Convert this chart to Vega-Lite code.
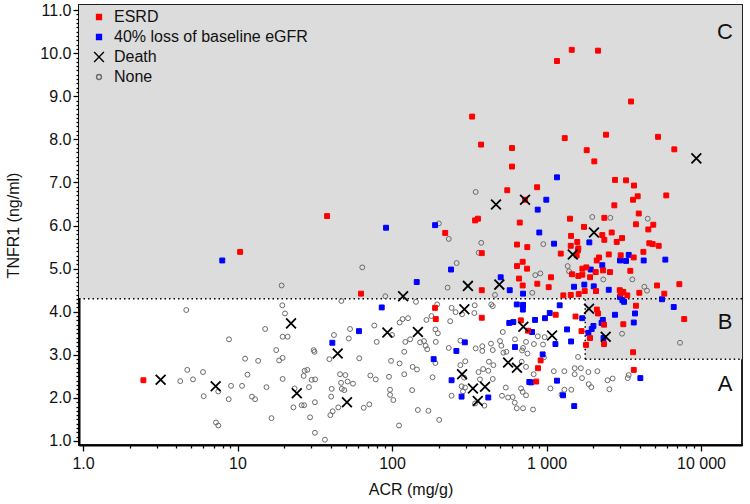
{
"$schema": "https://vega.github.io/schema/vega-lite/v6.json",
"width": 663, "height": 440,
"autosize": "none",
"padding": {"left": 79, "top": 5, "right": 8, "bottom": 59},
"background": "white",
"resolve": {"axis": {"x": "independent", "y": "independent"}},
"config": {
  "font": "Liberation Sans",
  "view": {"stroke": "#222", "strokeWidth": 2},
  "axis": {"domainColor": "#000", "domainWidth": 2, "tickColor": "#000", "tickWidth": 1.3, "labelFontSize": 16, "labelColor": "#111", "titleFontSize": 16, "titleFontWeight": "normal", "titleColor": "#111", "grid": false, "labelOverlap": false, "zindex": 1},
  "legend": {"orient": "none", "legendX": 12, "legendY": 4, "labelFontSize": 16, "labelColor": "#111", "rowPadding": 4, "labelOffset": 7, "labelLimit": 0, "symbolSize": 24, "symbolStrokeWidth": 1.4, "title": null, "padding": 0}
},
"datasets": {
  "patients": [
{"acr":348,"tnfr1":6.78,"outcome":"N"},{"acr":953,"tnfr1":5.57,"outcome":"N"},{"acr":378,"tnfr1":5.60,"outcome":"N"},{"acr":364,"tnfr1":5.37,"outcome":"N"},{"acr":846,"tnfr1":4.85,"outcome":"N"},{"acr":912,"tnfr1":4.89,"outcome":"N"},{"acr":1371,"tnfr1":5.06,"outcome":"N"},{"acr":1399,"tnfr1":4.94,"outcome":"N"},{"acr":262,"tnfr1":5.13,"outcome":"N"},{"acr":2329,"tnfr1":4.75,"outcome":"N"},{"acr":3592,"tnfr1":4.75,"outcome":"N"},{"acr":1978,"tnfr1":6.20,"outcome":"N"},{"acr":2588,"tnfr1":6.18,"outcome":"N"},{"acr":4519,"tnfr1":6.16,"outcome":"N"},{"acr":4296,"tnfr1":4.58,"outcome":"N"},{"acr":4470,"tnfr1":4.49,"outcome":"N"},{"acr":464,"tnfr1":4.39,"outcome":"N"},{"acr":809,"tnfr1":4.44,"outcome":"N"},{"acr":201,"tnfr1":6.05,"outcome":"N"},{"acr":233,"tnfr1":5.69,"outcome":"N"},{"acr":64.2,"tnfr1":5.03,"outcome":"N"},{"acr":19.3,"tnfr1":4.61,"outcome":"N"},{"acr":229,"tnfr1":4.56,"outcome":"N"},{"acr":90.5,"tnfr1":4.36,"outcome":"N"},{"acr":47.0,"tnfr1":4.25,"outcome":"N"},{"acr":19.5,"tnfr1":4.15,"outcome":"N"},{"acr":143,"tnfr1":4.23,"outcome":"N"},{"acr":196,"tnfr1":4.17,"outcome":"N"},{"acr":243,"tnfr1":4.09,"outcome":"N"},{"acr":343,"tnfr1":4.15,"outcome":"N"},{"acr":341,"tnfr1":3.97,"outcome":"N"},{"acr":439,"tnfr1":4.17,"outcome":"N"},{"acr":449,"tnfr1":4.13,"outcome":"N"},{"acr":20.3,"tnfr1":3.96,"outcome":"N"},{"acr":180,"tnfr1":3.90,"outcome":"N"},{"acr":117,"tnfr1":3.83,"outcome":"N"},{"acr":127,"tnfr1":3.85,"outcome":"N"},{"acr":112,"tnfr1":3.75,"outcome":"N"},{"acr":167,"tnfr1":3.81,"outcome":"N"},{"acr":258,"tnfr1":3.99,"outcome":"N"},{"acr":284,"tnfr1":3.94,"outcome":"N"},{"acr":238,"tnfr1":3.78,"outcome":"N"},{"acr":521,"tnfr1":3.53,"outcome":"N"},{"acr":19.6,"tnfr1":3.42,"outcome":"N"},{"acr":21.1,"tnfr1":3.42,"outcome":"N"},{"acr":42.1,"tnfr1":3.46,"outcome":"N"},{"acr":53.5,"tnfr1":3.60,"outcome":"N"},{"acr":100,"tnfr1":3.46,"outcome":"N"},{"acr":76.8,"tnfr1":3.68,"outcome":"N"},{"acr":52.5,"tnfr1":3.38,"outcome":"N"},{"acr":79.6,"tnfr1":3.30,"outcome":"N"},{"acr":122,"tnfr1":3.30,"outcome":"N"},{"acr":120,"tnfr1":3.07,"outcome":"N"},{"acr":131,"tnfr1":3.36,"outcome":"N"},{"acr":152,"tnfr1":3.29,"outcome":"N"},{"acr":161,"tnfr1":3.32,"outcome":"N"},{"acr":165,"tnfr1":3.21,"outcome":"N"},{"acr":169,"tnfr1":3.13,"outcome":"N"},{"acr":191,"tnfr1":3.59,"outcome":"N"},{"acr":198,"tnfr1":3.50,"outcome":"N"},{"acr":192,"tnfr1":3.30,"outcome":"N"},{"acr":31.1,"tnfr1":3.11,"outcome":"N"},{"acr":31.5,"tnfr1":3.07,"outcome":"N"},{"acr":17.8,"tnfr1":3.11,"outcome":"N"},{"acr":18.6,"tnfr1":2.87,"outcome":"N"},{"acr":19.6,"tnfr1":2.93,"outcome":"N"},{"acr":39.3,"tnfr1":2.90,"outcome":"N"},{"acr":61.4,"tnfr1":2.92,"outcome":"N"},{"acr":277,"tnfr1":3.33,"outcome":"N"},{"acr":233,"tnfr1":3.16,"outcome":"N"},{"acr":348,"tnfr1":3.15,"outcome":"N"},{"acr":384,"tnfr1":3.09,"outcome":"N"},{"acr":384,"tnfr1":3.20,"outcome":"N"},{"acr":437,"tnfr1":3.26,"outcome":"N"},{"acr":449,"tnfr1":3.11,"outcome":"N"},{"acr":500,"tnfr1":3.32,"outcome":"N"},{"acr":510,"tnfr1":3.21,"outcome":"N"},{"acr":526,"tnfr1":3.05,"outcome":"N"},{"acr":550,"tnfr1":3.07,"outcome":"N"},{"acr":625,"tnfr1":3.36,"outcome":"N"},{"acr":737,"tnfr1":3.30,"outcome":"N"},{"acr":705,"tnfr1":3.16,"outcome":"N"},{"acr":753,"tnfr1":3.03,"outcome":"N"},{"acr":191,"tnfr1":2.81,"outcome":"N"},{"acr":691,"tnfr1":2.84,"outcome":"N"},{"acr":737,"tnfr1":2.72,"outcome":"N"},{"acr":98.6,"tnfr1":2.86,"outcome":"N"},{"acr":112,"tnfr1":2.80,"outcome":"N"},{"acr":136,"tnfr1":2.72,"outcome":"N"},{"acr":145,"tnfr1":2.66,"outcome":"N"},{"acr":120,"tnfr1":2.55,"outcome":"N"},{"acr":95.6,"tnfr1":2.49,"outcome":"N"},{"acr":72.4,"tnfr1":2.52,"outcome":"N"},{"acr":78.5,"tnfr1":2.43,"outcome":"N"},{"acr":46.1,"tnfr1":2.55,"outcome":"N"},{"acr":49.9,"tnfr1":2.53,"outcome":"N"},{"acr":51.6,"tnfr1":2.38,"outcome":"N"},{"acr":55.9,"tnfr1":2.33,"outcome":"N"},{"acr":46.8,"tnfr1":2.35,"outcome":"N"},{"acr":49.1,"tnfr1":2.18,"outcome":"N"},{"acr":47.3,"tnfr1":2.21,"outcome":"N"},{"acr":19.6,"tnfr1":2.44,"outcome":"N"},{"acr":27.2,"tnfr1":2.63,"outcome":"N"},{"acr":28.3,"tnfr1":2.65,"outcome":"N"},{"acr":26.8,"tnfr1":2.51,"outcome":"N"},{"acr":30.2,"tnfr1":2.42,"outcome":"N"},{"acr":31.8,"tnfr1":2.43,"outcome":"N"},{"acr":29.0,"tnfr1":2.25,"outcome":"N"},{"acr":23.4,"tnfr1":2.22,"outcome":"N"},{"acr":23.0,"tnfr1":1.78,"outcome":"N"},{"acr":26.0,"tnfr1":1.83,"outcome":"N"},{"acr":27.0,"tnfr1":1.83,"outcome":"N"},{"acr":31.7,"tnfr1":1.90,"outcome":"N"},{"acr":29.5,"tnfr1":1.55,"outcome":"N"},{"acr":31.7,"tnfr1":1.19,"outcome":"N"},{"acr":36.8,"tnfr1":1.03,"outcome":"N"},{"acr":40.7,"tnfr1":2.21,"outcome":"N"},{"acr":40.4,"tnfr1":2.03,"outcome":"N"},{"acr":39.9,"tnfr1":1.60,"outcome":"N"},{"acr":41.3,"tnfr1":1.69,"outcome":"N"},{"acr":44.9,"tnfr1":1.78,"outcome":"N"},{"acr":65.6,"tnfr1":1.77,"outcome":"N"},{"acr":71.3,"tnfr1":1.85,"outcome":"N"},{"acr":97.1,"tnfr1":2.19,"outcome":"N"},{"acr":97.1,"tnfr1":2.07,"outcome":"N"},{"acr":102,"tnfr1":1.95,"outcome":"N"},{"acr":111,"tnfr1":1.36,"outcome":"N"},{"acr":135,"tnfr1":2.18,"outcome":"N"},{"acr":147,"tnfr1":1.72,"outcome":"N"},{"acr":172,"tnfr1":1.70,"outcome":"N"},{"acr":202,"tnfr1":1.49,"outcome":"N"},{"acr":183,"tnfr1":2.48,"outcome":"N"},{"acr":282,"tnfr1":2.27,"outcome":"N"},{"acr":288,"tnfr1":2.15,"outcome":"N"},{"acr":297,"tnfr1":2.24,"outcome":"N"},{"acr":243,"tnfr1":2.05,"outcome":"N"},{"acr":371,"tnfr1":2.43,"outcome":"N"},{"acr":363,"tnfr1":2.60,"outcome":"N"},{"acr":420,"tnfr1":2.63,"outcome":"N"},{"acr":449,"tnfr1":2.44,"outcome":"N"},{"acr":396,"tnfr1":1.82,"outcome":"N"},{"acr":345,"tnfr1":1.87,"outcome":"N"},{"acr":545,"tnfr1":2.24,"outcome":"N"},{"acr":515,"tnfr1":2.05,"outcome":"N"},{"acr":564,"tnfr1":2.01,"outcome":"N"},{"acr":604,"tnfr1":2.02,"outcome":"N"},{"acr":642,"tnfr1":1.76,"outcome":"N"},{"acr":623,"tnfr1":1.89,"outcome":"N"},{"acr":684,"tnfr1":2.22,"outcome":"N"},{"acr":701,"tnfr1":2.14,"outcome":"N"},{"acr":737,"tnfr1":2.06,"outcome":"N"},{"acr":453,"tnfr1":2.76,"outcome":"N"},{"acr":424,"tnfr1":2.84,"outcome":"N"},{"acr":389,"tnfr1":2.67,"outcome":"N"},{"acr":298,"tnfr1":2.85,"outcome":"N"},{"acr":277,"tnfr1":2.76,"outcome":"N"},{"acr":293,"tnfr1":2.47,"outcome":"N"},{"acr":16.6,"tnfr1":1.53,"outcome":"N"},{"acr":4.66,"tnfr1":4.04,"outcome":"N"},{"acr":15.1,"tnfr1":3.60,"outcome":"N"},{"acr":8.81,"tnfr1":3.36,"outcome":"N"},{"acr":11.2,"tnfr1":2.91,"outcome":"N"},{"acr":13.6,"tnfr1":2.86,"outcome":"N"},{"acr":4.73,"tnfr1":2.65,"outcome":"N"},{"acr":5.98,"tnfr1":2.60,"outcome":"N"},{"acr":11.6,"tnfr1":2.54,"outcome":"N"},{"acr":4.26,"tnfr1":2.39,"outcome":"N"},{"acr":5.15,"tnfr1":2.43,"outcome":"N"},{"acr":9.08,"tnfr1":2.28,"outcome":"N"},{"acr":10.7,"tnfr1":2.28,"outcome":"N"},{"acr":15.4,"tnfr1":2.25,"outcome":"N"},{"acr":7.51,"tnfr1":2.15,"outcome":"N"},{"acr":6.04,"tnfr1":2.04,"outcome":"N"},{"acr":12.4,"tnfr1":2.03,"outcome":"N"},{"acr":13.0,"tnfr1":1.97,"outcome":"N"},{"acr":8.77,"tnfr1":1.97,"outcome":"N"},{"acr":7.26,"tnfr1":1.43,"outcome":"N"},{"acr":7.51,"tnfr1":1.36,"outcome":"N"},{"acr":3083,"tnfr1":3.49,"outcome":"N"},{"acr":7311,"tnfr1":3.28,"outcome":"N"},{"acr":695,"tnfr1":3.10,"outcome":"N"},{"acr":829,"tnfr1":3.25,"outcome":"N"},{"acr":949,"tnfr1":3.24,"outcome":"N"},{"acr":972,"tnfr1":3.41,"outcome":"N"},{"acr":878,"tnfr1":3.43,"outcome":"N"},{"acr":962,"tnfr1":2.94,"outcome":"N"},{"acr":1600,"tnfr1":2.95,"outcome":"N"},{"acr":1521,"tnfr1":2.69,"outcome":"N"},{"acr":1668,"tnfr1":2.69,"outcome":"N"},{"acr":1866,"tnfr1":2.60,"outcome":"N"},{"acr":2135,"tnfr1":2.62,"outcome":"N"},{"acr":1698,"tnfr1":2.46,"outcome":"N"},{"acr":1521,"tnfr1":2.55,"outcome":"N"},{"acr":1876,"tnfr1":2.32,"outcome":"N"},{"acr":1950,"tnfr1":2.25,"outcome":"N"},{"acr":2483,"tnfr1":2.41,"outcome":"N"},{"acr":2679,"tnfr1":2.45,"outcome":"N"},{"acr":2553,"tnfr1":2.20,"outcome":"N"},{"acr":3356,"tnfr1":2.46,"outcome":"N"},{"acr":3405,"tnfr1":2.53,"outcome":"N"},{"acr":1115,"tnfr1":2.62,"outcome":"N"},{"acr":1304,"tnfr1":2.62,"outcome":"N"},{"acr":1060,"tnfr1":2.22,"outcome":"N"},{"acr":1250,"tnfr1":2.08,"outcome":"N"},{"acr":826,"tnfr1":2.55,"outcome":"N"},{"acr":705,"tnfr1":1.76,"outcome":"N"},{"acr":818,"tnfr1":1.73,"outcome":"N"},{"acr":1305,"tnfr1":2.19,"outcome":"N"},{"acr":1447,"tnfr1":2.19,"outcome":"N"},
{"acr":997,"tnfr1":6.60,"outcome":"B"},{"acr":877,"tnfr1":6.37,"outcome":"B"},{"acr":898,"tnfr1":5.84,"outcome":"B"},{"acr":1893,"tnfr1":5.61,"outcome":"B"},{"acr":1119,"tnfr1":5.58,"outcome":"B"},{"acr":3404,"tnfr1":5.32,"outcome":"B"},{"acr":3272,"tnfr1":5.18,"outcome":"B"},{"acr":2991,"tnfr1":5.19,"outcome":"B"},{"acr":4256,"tnfr1":5.19,"outcome":"B"},{"acr":5875,"tnfr1":5.21,"outcome":"B"},{"acr":2297,"tnfr1":5.08,"outcome":"B"},{"acr":1932,"tnfr1":4.98,"outcome":"B"},{"acr":241,"tnfr1":4.98,"outcome":"B"},{"acr":505,"tnfr1":4.80,"outcome":"B"},{"acr":578,"tnfr1":4.50,"outcome":"B"},{"acr":1507,"tnfr1":4.58,"outcome":"B"},{"acr":1757,"tnfr1":4.63,"outcome":"B"},{"acr":2022,"tnfr1":4.59,"outcome":"B"},{"acr":2529,"tnfr1":4.51,"outcome":"B"},{"acr":705,"tnfr1":4.42,"outcome":"B"},{"acr":2991,"tnfr1":4.34,"outcome":"B"},{"acr":3096,"tnfr1":4.27,"outcome":"B"},{"acr":3175,"tnfr1":4.23,"outcome":"B"},{"acr":5593,"tnfr1":4.29,"outcome":"B"},{"acr":6658,"tnfr1":4.11,"outcome":"B"},{"acr":1169,"tnfr1":7.12,"outcome":"B"},{"acr":91.5,"tnfr1":5.95,"outcome":"B"},{"acr":190,"tnfr1":6.01,"outcome":"B"},{"acr":7.97,"tnfr1":5.19,"outcome":"B"},{"acr":144.5,"tnfr1":4.69,"outcome":"B"},{"acr":85.8,"tnfr1":4.10,"outcome":"B"},{"acr":642,"tnfr1":4.17,"outcome":"B"},{"acr":705,"tnfr1":4.16,"outcome":"B"},{"acr":703,"tnfr1":4.05,"outcome":"B"},{"acr":574,"tnfr1":3.74,"outcome":"B"},{"acr":610,"tnfr1":3.76,"outcome":"B"},{"acr":61.1,"tnfr1":3.55,"outcome":"B"},{"acr":41.1,"tnfr1":3.28,"outcome":"B"},{"acr":261,"tnfr1":3.09,"outcome":"B"},{"acr":296,"tnfr1":3.29,"outcome":"B"},{"acr":625,"tnfr1":3.18,"outcome":"B"},{"acr":186,"tnfr1":2.90,"outcome":"B"},{"acr":243,"tnfr1":2.41,"outcome":"B"},{"acr":282,"tnfr1":2.03,"outcome":"B"},{"acr":420,"tnfr1":2.01,"outcome":"B"},{"acr":774,"tnfr1":2.37,"outcome":"B"},{"acr":806,"tnfr1":3.53,"outcome":"B"},{"acr":843,"tnfr1":3.81,"outcome":"B"},{"acr":977,"tnfr1":3.85,"outcome":"B"},{"acr":1049,"tnfr1":3.97,"outcome":"B"},{"acr":1217,"tnfr1":4.15,"outcome":"B"},{"acr":1142,"tnfr1":3.25,"outcome":"B"},{"acr":1358,"tnfr1":3.59,"outcome":"B"},{"acr":1442,"tnfr1":3.31,"outcome":"B"},{"acr":1702,"tnfr1":3.85,"outcome":"B"},{"acr":1868,"tnfr1":3.51,"outcome":"B"},{"acr":2012,"tnfr1":3.67,"outcome":"B"},{"acr":1961,"tnfr1":3.60,"outcome":"B"},{"acr":2314,"tnfr1":3.81,"outcome":"B"},{"acr":2272,"tnfr1":3.74,"outcome":"B"},{"acr":2339,"tnfr1":3.39,"outcome":"B"},{"acr":2775,"tnfr1":3.93,"outcome":"B"},{"acr":3740,"tnfr1":3.96,"outcome":"B"},{"acr":3671,"tnfr1":3.75,"outcome":"B"},{"acr":4049,"tnfr1":2.46,"outcome":"B"},{"acr":944,"tnfr1":3.01,"outcome":"B"},{"acr":794,"tnfr1":2.36,"outcome":"B"},{"acr":1169,"tnfr1":2.40,"outcome":"B"},{"acr":1279,"tnfr1":2.06,"outcome":"B"},{"acr":1511,"tnfr1":1.81,"outcome":"B"},
{"acr":1456,"tnfr1":10.08,"outcome":"R"},{"acr":2154,"tnfr1":10.06,"outcome":"R"},{"acr":1169,"tnfr1":9.82,"outcome":"R"},{"acr":3524,"tnfr1":8.88,"outcome":"R"},{"acr":1312,"tnfr1":8.03,"outcome":"R"},{"acr":2427,"tnfr1":8.11,"outcome":"R"},{"acr":5270,"tnfr1":8.06,"outcome":"R"},{"acr":377,"tnfr1":7.88,"outcome":"R"},{"acr":598,"tnfr1":7.80,"outcome":"R"},{"acr":1820,"tnfr1":7.75,"outcome":"R"},{"acr":6719,"tnfr1":7.77,"outcome":"R"},{"acr":2039,"tnfr1":7.49,"outcome":"R"},{"acr":598,"tnfr1":7.37,"outcome":"R"},{"acr":2775,"tnfr1":7.06,"outcome":"R"},{"acr":3271,"tnfr1":7.05,"outcome":"R"},{"acr":330,"tnfr1":8.53,"outcome":"R"},{"acr":557,"tnfr1":6.82,"outcome":"R"},{"acr":869,"tnfr1":6.89,"outcome":"R"},{"acr":726,"tnfr1":6.60,"outcome":"R"},{"acr":3683,"tnfr1":6.93,"outcome":"R"},{"acr":3892,"tnfr1":6.68,"outcome":"R"},{"acr":3631,"tnfr1":6.60,"outcome":"R"},{"acr":5960,"tnfr1":6.70,"outcome":"R"},{"acr":2748,"tnfr1":6.47,"outcome":"R"},{"acr":3954,"tnfr1":6.28,"outcome":"R"},{"acr":345,"tnfr1":6.12,"outcome":"R"},{"acr":360,"tnfr1":6.16,"outcome":"R"},{"acr":671,"tnfr1":6.07,"outcome":"R"},{"acr":1419,"tnfr1":6.16,"outcome":"R"},{"acr":2367,"tnfr1":6.18,"outcome":"R"},{"acr":3793,"tnfr1":6.03,"outcome":"R"},{"acr":4910,"tnfr1":6.02,"outcome":"R"},{"acr":4560,"tnfr1":5.91,"outcome":"R"},{"acr":1749,"tnfr1":5.97,"outcome":"R"},{"acr":2642,"tnfr1":5.84,"outcome":"R"},{"acr":1442,"tnfr1":5.76,"outcome":"R"},{"acr":2297,"tnfr1":5.78,"outcome":"R"},{"acr":2367,"tnfr1":5.67,"outcome":"R"},{"acr":3083,"tnfr1":5.71,"outcome":"R"},{"acr":2846,"tnfr1":5.62,"outcome":"R"},{"acr":1582,"tnfr1":5.62,"outcome":"R"},{"acr":381,"tnfr1":5.36,"outcome":"R"},{"acr":644,"tnfr1":5.56,"outcome":"R"},{"acr":751,"tnfr1":5.50,"outcome":"R"},{"acr":1435,"tnfr1":5.53,"outcome":"R"},{"acr":1607,"tnfr1":5.47,"outcome":"R"},{"acr":4628,"tnfr1":5.59,"outcome":"R"},{"acr":4866,"tnfr1":5.57,"outcome":"R"},{"acr":5323,"tnfr1":5.53,"outcome":"R"},{"acr":1600,"tnfr1":5.43,"outcome":"R"},{"acr":1236,"tnfr1":5.35,"outcome":"R"},{"acr":1567,"tnfr1":5.31,"outcome":"R"},{"acr":4236,"tnfr1":5.39,"outcome":"R"},{"acr":2529,"tnfr1":5.33,"outcome":"R"},{"acr":3021,"tnfr1":5.31,"outcome":"R"},{"acr":3667,"tnfr1":5.26,"outcome":"R"},{"acr":2187,"tnfr1":5.26,"outcome":"R"},{"acr":2113,"tnfr1":5.19,"outcome":"R"},{"acr":2321,"tnfr1":4.96,"outcome":"R"},{"acr":2576,"tnfr1":4.92,"outcome":"R"},{"acr":2081,"tnfr1":4.92,"outcome":"R"},{"acr":1706,"tnfr1":5.00,"outcome":"R"},{"acr":1811,"tnfr1":5.03,"outcome":"R"},{"acr":701,"tnfr1":5.16,"outcome":"R"},{"acr":644,"tnfr1":5.06,"outcome":"R"},{"acr":748,"tnfr1":5.00,"outcome":"R"},{"acr":1462,"tnfr1":4.87,"outcome":"R"},{"acr":1607,"tnfr1":4.83,"outcome":"R"},{"acr":1706,"tnfr1":4.86,"outcome":"R"},{"acr":1914,"tnfr1":4.80,"outcome":"R"},{"acr":1069,"tnfr1":4.80,"outcome":"R"},{"acr":3487,"tnfr1":4.95,"outcome":"R"},{"acr":664,"tnfr1":4.77,"outcome":"R"},{"acr":872,"tnfr1":4.65,"outcome":"R"},{"acr":1033,"tnfr1":4.57,"outcome":"R"},{"acr":701,"tnfr1":4.61,"outcome":"R"},{"acr":1767,"tnfr1":4.48,"outcome":"R"},{"acr":2091,"tnfr1":4.48,"outcome":"R"},{"acr":2978,"tnfr1":4.50,"outcome":"R"},{"acr":3021,"tnfr1":4.42,"outcome":"R"},{"acr":3142,"tnfr1":4.46,"outcome":"R"},{"acr":5192,"tnfr1":4.61,"outcome":"R"},{"acr":5786,"tnfr1":4.42,"outcome":"R"},{"acr":7241,"tnfr1":4.64,"outcome":"R"},{"acr":381,"tnfr1":4.50,"outcome":"R"},{"acr":1285,"tnfr1":4.38,"outcome":"R"},{"acr":1435,"tnfr1":4.39,"outcome":"R"},{"acr":1616,"tnfr1":4.41,"outcome":"R"},{"acr":3334,"tnfr1":4.38,"outcome":"R"},{"acr":3988,"tnfr1":4.44,"outcome":"R"},{"acr":38.0,"tnfr1":6.22,"outcome":"R"},{"acr":221,"tnfr1":5.83,"outcome":"R"},{"acr":10.4,"tnfr1":5.39,"outcome":"R"},{"acr":63.0,"tnfr1":4.42,"outcome":"R"},{"acr":190,"tnfr1":4.09,"outcome":"R"},{"acr":192,"tnfr1":3.83,"outcome":"R"},{"acr":381,"tnfr1":3.86,"outcome":"R"},{"acr":759,"tnfr1":3.56,"outcome":"R"},{"acr":682,"tnfr1":3.80,"outcome":"R"},{"acr":1147,"tnfr1":3.93,"outcome":"R"},{"acr":1541,"tnfr1":3.89,"outcome":"R"},{"acr":1685,"tnfr1":3.55,"outcome":"R"},{"acr":1913,"tnfr1":3.39,"outcome":"R"},{"acr":1801,"tnfr1":3.23,"outcome":"R"},{"acr":2117,"tnfr1":4.05,"outcome":"R"},{"acr":2154,"tnfr1":3.96,"outcome":"R"},{"acr":2356,"tnfr1":3.70,"outcome":"R"},{"acr":2356,"tnfr1":3.25,"outcome":"R"},{"acr":3142,"tnfr1":3.71,"outcome":"R"},{"acr":3793,"tnfr1":4.14,"outcome":"R"},{"acr":3631,"tnfr1":3.06,"outcome":"R"},{"acr":3671,"tnfr1":2.65,"outcome":"R"},{"acr":7786,"tnfr1":3.83,"outcome":"R"},{"acr":916,"tnfr1":2.87,"outcome":"R"},{"acr":881,"tnfr1":2.69,"outcome":"R"},{"acr":858,"tnfr1":2.38,"outcome":"R"},{"acr":2.46,"tnfr1":2.41,"outcome":"R"},
{"acr":9330,"tnfr1":7.56,"outcome":"X"},{"acr":726,"tnfr1":6.60,"outcome":"X"},{"acr":471,"tnfr1":6.49,"outcome":"X"},{"acr":2029,"tnfr1":5.84,"outcome":"X"},{"acr":1479,"tnfr1":5.33,"outcome":"X"},{"acr":310,"tnfr1":4.60,"outcome":"X"},{"acr":495,"tnfr1":4.63,"outcome":"X"},{"acr":118,"tnfr1":4.36,"outcome":"X"},{"acr":294,"tnfr1":4.06,"outcome":"X"},{"acr":708,"tnfr1":3.65,"outcome":"X"},{"acr":22.2,"tnfr1":3.73,"outcome":"X"},{"acr":93.3,"tnfr1":3.52,"outcome":"X"},{"acr":147,"tnfr1":3.53,"outcome":"X"},{"acr":44.5,"tnfr1":3.03,"outcome":"X"},{"acr":564,"tnfr1":2.82,"outcome":"X"},{"acr":644,"tnfr1":2.70,"outcome":"X"},{"acr":24.2,"tnfr1":2.11,"outcome":"X"},{"acr":51.1,"tnfr1":1.90,"outcome":"X"},{"acr":284,"tnfr1":2.55,"outcome":"X"},{"acr":334,"tnfr1":2.22,"outcome":"X"},{"acr":400,"tnfr1":2.26,"outcome":"X"},{"acr":359,"tnfr1":1.93,"outcome":"X"},{"acr":1086,"tnfr1":3.45,"outcome":"X"},{"acr":1884,"tnfr1":4.07,"outcome":"X"},{"acr":2416,"tnfr1":3.42,"outcome":"X"},{"acr":3.18,"tnfr1":2.42,"outcome":"X"},{"acr":7.22,"tnfr1":2.27,"outcome":"X"}
  ]
},
"layer": [
  {
    "data": {"values": [{"x1": 0.942, "x2": 18420, "y1": 4.3, "y2": 11.12}, {"x1": 1780, "x2": 18420, "y1": 2.9, "y2": 4.3}]},
    "mark": {"type": "rect", "fill": "#dcdcdc", "clip": true},
    "encoding": {
      "x": {"field": "x1", "type": "quantitative", "scale": {"type": "log", "domain": [0.942, 18420], "nice": false},
        "axis": {"title": "ACR (mg/g)", "orient": "bottom", "values": [1,10,100,1000,10000],
          "labelExpr": "datum.value==1?'1.0':datum.value==10?'10':datum.value==100?'100':datum.value==1000?'1 000':'10 000'",
          "tickSize": 6, "labelPadding": 4, "labelFlush": false, "labelOverlap": false, "titlePadding": 10}},
      "x2": {"field": "x2"},
      "y": {"field": "y1", "type": "quantitative", "scale": {"domain": [0.907, 11.12], "nice": false, "zero": false},
        "axis": {"title": "TNFR1 (ng/ml)", "orient": "left", "values": [1,2,3,4,5,6,7,8,9,10,11],
          "format": ".1f", "tickSize": 6, "labelPadding": 2, "labelOverlap": false, "titlePadding": 18}},
      "y2": {"field": "y2"}
    }
  },
  {
    "data": {"values": [{"y": 4.3}]},
    "mark": {"type": "rule", "stroke": "#000", "strokeWidth": 1.5, "strokeDash": [1.5, 3]},
    "encoding": {"y": {"field": "y", "type": "quantitative", "axis": null}}
  },
  {
    "data": {"values": [{"x1": 1780, "x2": 18420, "y1": 2.9, "y2": 2.9}, {"x1": 1780, "x2": 1780, "y1": 2.9, "y2": 4.3}]},
    "mark": {"type": "rule", "stroke": "#000", "strokeWidth": 1.5, "strokeDash": [1.5, 3], "clip": true},
    "encoding": {
      "x": {"field": "x1", "type": "quantitative", "axis": null},
      "x2": {"field": "x2"},
      "y": {"field": "y1", "type": "quantitative", "axis": null},
      "y2": {"field": "y2"}}
  },
  {
    "data": {"name": "patients"},
    "transform": [{"filter": "datum.outcome != 'X'"}],
    "mark": {"type": "point", "opacity": 1, "size": 24, "strokeWidth": 1},
    "encoding": {
      "x": {"field": "acr", "type": "quantitative",
        "axis": {"orient": "bottom", "title": null, "labels": false, "domain": false, "ticks": true, "tickSize": 3, "tickColor": "#000", "tickOpacity": 1, "labelOverlap": false,
          "values": [2,3,4,5,6,7,8,9,20,30,40,50,60,70,80,90,200,300,400,500,600,700,800,900,2000,3000,4000,5000,6000,7000,8000,9000]}},
      "y": {"field": "tnfr1", "type": "quantitative",
        "axis": {"orient": "left", "title": null, "labels": false, "domain": false, "ticks": true, "tickSize": 3, "tickColor": "#000", "tickOpacity": 1, "labelOverlap": false,
          "values": [1.1,1.2,1.3,1.4,1.5,1.6,1.7,1.8,1.9,2.1,2.2,2.3,2.4,2.5,2.6,2.7,2.8,2.9,3.1,3.2,3.3,3.4,3.5,3.6,3.7,3.8,3.9,4.1,4.2,4.3,4.4,4.5,4.6,4.7,4.8,4.9,5.1,5.2,5.3,5.4,5.5,5.6,5.7,5.8,5.9,6.1,6.2,6.3,6.4,6.5,6.6,6.7,6.8,6.9,7.1,7.2,7.3,7.4,7.5,7.6,7.7,7.8,7.9,8.1,8.2,8.3,8.4,8.5,8.6,8.7,8.8,8.9,9.1,9.2,9.3,9.4,9.5,9.6,9.7,9.8,9.9,10.1,10.2,10.3,10.4,10.5,10.6,10.7,10.8,10.9]}},
      "shape": {"field": "outcome", "type": "nominal", "scale": {"domain": ["R", "B", "X", "N"], "range": ["square", "square", "M-2,-2L2,2M-2,2L2,-2", "circle"]},
        "legend": {"labelExpr": "datum.label=='R'?'ESRD':datum.label=='B'?'40% loss of baseline eGFR':datum.label=='X'?'Death':'None'"}},
      "fill": {"field": "outcome", "type": "nominal", "scale": {"domain": ["R", "B", "X", "N"], "range": ["#ff0000", "#0000ff", "transparent", "transparent"]},
        "legend": {"labelExpr": "datum.label=='R'?'ESRD':datum.label=='B'?'40% loss of baseline eGFR':datum.label=='X'?'Death':'None'"}},
      "stroke": {"field": "outcome", "type": "nominal", "scale": {"domain": ["R", "B", "X", "N"], "range": ["#ff0000", "#0000ff", "#000000", "#6a6a6a"]},
        "legend": {"labelExpr": "datum.label=='R'?'ESRD':datum.label=='B'?'40% loss of baseline eGFR':datum.label=='X'?'Death':'None'"}}
    }
  },
  {
    "data": {"name": "patients"},
    "transform": [{"filter": "datum.outcome == 'X'"}],
    "mark": {"type": "point", "opacity": 1, "size": 24, "strokeWidth": 1.8},
    "encoding": {
      "x": {"field": "acr", "type": "quantitative", "axis": null},
      "y": {"field": "tnfr1", "type": "quantitative", "axis": null},
      "shape": {"field": "outcome", "type": "nominal",
        "legend": {"labelExpr": "datum.label=='R'?'ESRD':datum.label=='B'?'40% loss of baseline eGFR':datum.label=='X'?'Death':'None'"}},
      "fill": {"field": "outcome", "type": "nominal",
        "legend": {"labelExpr": "datum.label=='R'?'ESRD':datum.label=='B'?'40% loss of baseline eGFR':datum.label=='X'?'Death':'None'"}},
      "stroke": {"field": "outcome", "type": "nominal",
        "legend": {"labelExpr": "datum.label=='R'?'ESRD':datum.label=='B'?'40% loss of baseline eGFR':datum.label=='X'?'Death':'None'"}}
    }
  },
  {
    "data": {"values": [{"acr": 14300, "tnfr1": 10.5, "label": "C"}, {"acr": 14300, "tnfr1": 3.76, "label": "B"}, {"acr": 14300, "tnfr1": 2.32, "label": "A"}]},
    "mark": {"type": "text", "fontSize": 22, "color": "#111", "align": "center", "baseline": "middle"},
    "encoding": {
      "x": {"field": "acr", "type": "quantitative", "axis": null},
      "y": {"field": "tnfr1", "type": "quantitative", "axis": null},
      "text": {"field": "label"}
    }
  }
]
}
